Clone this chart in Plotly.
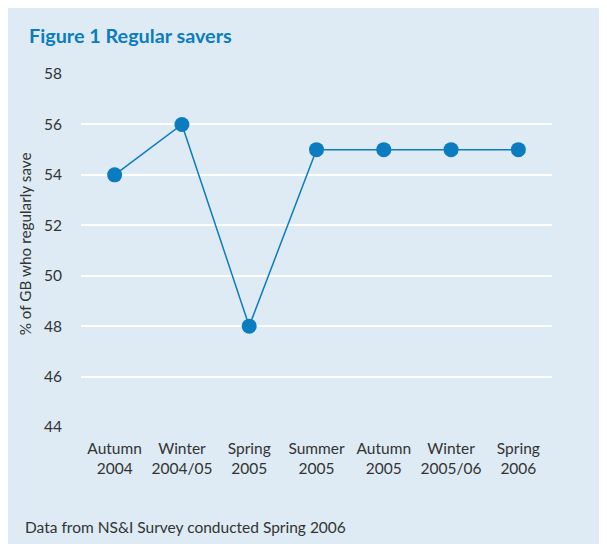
import plotly.graph_objects as go

# survey periods and share of GB who regularly save (%)
periods = ["Autumn<br>2004", "Winter<br>2004/05", "Spring<br>2005", "Summer<br>2005",
           "Autumn<br>2005", "Winter<br>2005/06", "Spring<br>2006"]
savers = [54, 56, 48, 55, 55, 55, 55]
y_ticks = [44, 46, 48, 50, 52, 54, 56, 58]

bg = "#deebf4"
blue = "#0a7cbf"
font = "Lato"

fig = go.Figure()

fig.add_trace(go.Scatter(
    x=periods,
    y=savers,
    mode="lines+markers",
    line=dict(color=blue, width=1.5),
    marker=dict(size=15, color=blue),
    showlegend=False,
    hoverinfo="skip"
))

fig.add_annotation(text="<b>Figure 1 Regular savers</b>", xref="paper", yref="paper",
                   x=-0.1146, y=1.111, xanchor="left", yanchor="middle", showarrow=False,
                   font=dict(family=font, size=19.8, color=blue))
fig.add_annotation(text="Data from NS&I Survey conducted Spring 2006", xref="paper", yref="paper",
                   x=-0.123, y=-0.283, xanchor="left", yanchor="middle", showarrow=False,
                   font=dict(family=font, size=15.5, color="#333333"))
fig.add_annotation(text="% of GB who regularly save", xref="paper", yref="paper",
                   x=-0.117, y=0.52, xanchor="center", yanchor="middle", textangle=-90,
                   showarrow=False, font=dict(family=font, size=15.3, color="#333333"))

fig.update_layout(
    width=607, height=544,
    margin=dict(l=73, r=63, t=66, b=125),
    paper_bgcolor=bg,
    plot_bgcolor=bg,
    font=dict(family=font, size=14, color="#333333"),
    xaxis=dict(showgrid=False, zeroline=False, showline=False,
               range=[-0.5, 6.5], tickfont=dict(size=15.5), ticks="",
               ticklabelstandoff=10),
    yaxis=dict(range=[44, 58], tickvals=y_ticks, showgrid=True, gridcolor="white",
               gridwidth=2, zeroline=False, showline=False, ticks="",
               ticklabelstandoff=18, tickfont=dict(size=15.5)),
)

fig.write_html("out.html")
